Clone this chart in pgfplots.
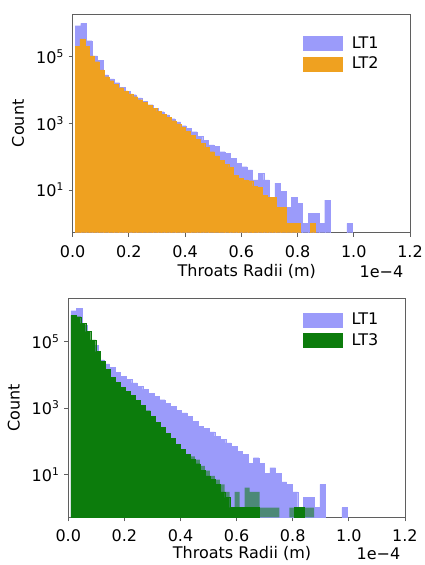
\documentclass[border=0pt]{standalone}
\usepackage{fontspec}
\setmainfont{DejaVu Sans}
\usepackage{pgfplots}
\pgfplotsset{compat=1.18}
\definecolor{lav}{RGB}{155,155,250}
\definecolor{org}{RGB}{239,161,32}
\definecolor{grn}{RGB}{12,124,12}
\definecolor{frm}{RGB}{95,95,95}
\newcommand{\fs}{\fontsize{12}{14}\selectfont}
\begin{document}
\begin{tikzpicture}
\useasboundingbox (0,0) rectangle (318.75pt,-423.75pt);
% ---------------- top panel ----------------
\begin{axis}[at={(54.5pt,-174.5pt)}, anchor=south west,
  width=253pt, height=164pt, scale only axis,
  ymode=log, log origin=infty,
  xmin=0, xmax=1.2, ymin=0.525, ymax=1.9e6,
  xtick={0,0.2,0.4,0.6,0.8,1.0,1.2},
  xticklabels={0.0,0.2,0.4,0.6,0.8,1.0,1.2},
  ytick={10,1000,100000},
  yticklabels={10\textsuperscript{1},10\textsuperscript{3},10\textsuperscript{5}},
  tick align=outside, major tick length=3pt, tick pos=left,
  tick style={frm, line width=0.6pt},
  axis line style={frm, line width=0.6pt},
  tick label style={font=\fs},
  label style={font=\fs},
  xticklabel style={yshift=-3pt},
  xlabel={Throats Radii (m)}, ylabel={Count},
  xlabel style={at={(rel axis cs:0.516,-0.178)}, anchor=center},
  ylabel style={at={(rel axis cs:-0.162,0.5)}, anchor=center},
  legend style={draw=none, fill=none, inner sep=0pt, anchor=north west,
      cells={anchor=west}, font=\fs, row sep=1pt, at={(rel axis cs:0.682,0.91)},
      /tikz/every odd column/.append style={column sep=5pt}},
  ]
\addlegendimage{legend image code/.code={\fill[lav] (0pt,-5.25pt) rectangle (29.25pt,5.25pt);}}
\addlegendentry{LT1}
\addlegendimage{legend image code/.code={\fill[org] (0pt,-5.25pt) rectangle (29.25pt,5.25pt);}}
\addlegendentry{LT2}
% LT1
\addplot[ybar, bar shift=0pt, bar width=0.01972, forget plot, fill=lav, draw=lav, line width=0.2pt] table[row sep=\\]{
x y\\
0.0189 851000\\ 0.0386 1000000\\ 0.0583 302000\\ 0.0780 105000\\ 0.0977 76000\\
0.1175 28200\\ 0.1372 21400\\ 0.1569 16600\\ 0.1766 12000\\ 0.1963 9100\\
0.2161 7200\\ 0.2358 5750\\ 0.2555 4570\\ 0.2752 3630\\ 0.2949 2820\\
0.3147 2240\\ 0.3344 1780\\ 0.3541 1380\\ 0.3738 1100\\ 0.3935 850\\
0.4133 710\\ 0.4330 560\\ 0.4527 400\\ 0.4724 316\\ 0.4921 224\\
0.5119 200\\ 0.5316 141\\ 0.5513 126\\ 0.5710 89\\ 0.5907 63\\
0.6105 50\\ 0.6302 40\\ 0.6499 20\\ 0.6696 32\\ 0.6893 20\\
0.7091 5\\ 0.7288 16\\ 0.7485 9\\ 0.7682 3\\ 0.7879 6\\
0.8077 4\\ 0.8274 1\\ 0.8471 2\\ 0.8668 2\\ 0.8865 1\\
0.9063 5\\ 0.9852 1\\
};
% LT2
\addplot[ybar, bar shift=0pt, bar width=0.01706, forget plot, fill=org, draw=org, line width=0.2pt] table[row sep=\\]{
x y\\
0.0175 200000\\ 0.0346 339000\\ 0.0516 200000\\ 0.0687 105000\\ 0.0857 70800\\
0.1028 39800\\ 0.1199 25100\\ 0.1369 19000\\ 0.1540 15100\\ 0.1710 11700\\
0.1881 9330\\ 0.2052 7590\\ 0.2222 6310\\ 0.2393 5130\\ 0.2563 4270\\
0.2734 3470\\ 0.2905 2820\\ 0.3075 2290\\ 0.3246 1860\\ 0.3416 1510\\
0.3587 1200\\ 0.3758 955\\ 0.3928 759\\ 0.4099 575\\ 0.4269 437\\
0.4440 331\\ 0.4611 251\\ 0.4781 191\\ 0.4952 141\\ 0.5122 105\\
0.5293 79\\ 0.5464 60\\ 0.5634 48\\ 0.5805 28\\ 0.5975 22\\
0.6146 20\\ 0.6317 19\\ 0.6487 13\\ 0.6658 12\\ 0.6828 7\\
0.6999 6\\ 0.7170 6\\ 0.7340 3\\ 0.7511 3\\ 0.7681 1\\
0.7852 1\\ 0.8023 1\\ 0.8534 1\\
};
\end{axis}
\node[anchor=east, font=\fs] at (306pt, -203.5pt) {1e−4};
% ---------------- bottom panel ----------------
\begin{axis}[at={(51.2pt,-388pt)}, anchor=south west,
  width=252.5pt, height=164.25pt, scale only axis,
  ymode=log, log origin=infty,
  xmin=0, xmax=1.2, ymin=0.51, ymax=2e6,
  xtick={0,0.2,0.4,0.6,0.8,1.0,1.2},
  xticklabels={0.0,0.2,0.4,0.6,0.8,1.0,1.2},
  ytick={10,1000,100000},
  yticklabels={10\textsuperscript{1},10\textsuperscript{3},10\textsuperscript{5}},
  tick align=outside, major tick length=3pt, tick pos=left,
  tick style={frm, line width=0.6pt},
  axis line style={frm, line width=0.6pt},
  tick label style={font=\fs},
  label style={font=\fs},
  xticklabel style={yshift=-3pt},
  xlabel={Throats Radii (m)}, ylabel={Count},
  xlabel style={at={(rel axis cs:0.516,-0.165)}, anchor=center},
  ylabel style={at={(rel axis cs:-0.162,0.5)}, anchor=center},
  legend style={draw=none, fill=none, inner sep=0pt, anchor=north west,
      cells={anchor=west}, font=\fs, row sep=1pt, at={(rel axis cs:0.696,0.945)},
      /tikz/every odd column/.append style={column sep=5pt}},
  ]
\addlegendimage{legend image code/.code={\fill[lav] (0pt,-5.25pt) rectangle (29.25pt,5.25pt);}}
\addlegendentry{LT1}
\addlegendimage{legend image code/.code={\fill[grn] (0pt,-5.25pt) rectangle (29.25pt,5.25pt);}}
\addlegendentry{LT3}
% LT1
\addplot[ybar, bar shift=0pt, bar width=0.01972, forget plot, fill=lav, draw=lav, line width=0.2pt] table[row sep=\\]{
x y\\
0.0189 851000\\ 0.0386 1000000\\ 0.0583 302000\\ 0.0780 105000\\ 0.0977 76000\\
0.1175 28200\\ 0.1372 21400\\ 0.1569 16600\\ 0.1766 12000\\ 0.1963 9100\\
0.2161 7200\\ 0.2358 5750\\ 0.2555 4570\\ 0.2752 3630\\ 0.2949 2820\\
0.3147 2240\\ 0.3344 1780\\ 0.3541 1380\\ 0.3738 1100\\ 0.3935 850\\
0.4133 710\\ 0.4330 560\\ 0.4527 400\\ 0.4724 282\\ 0.4921 240\\
0.5119 190\\ 0.5316 141\\ 0.5513 112\\ 0.5710 89\\ 0.5907 71\\
0.6105 50\\ 0.6302 40\\ 0.6499 22\\ 0.6696 32\\ 0.6893 22\\
0.7091 11\\ 0.7288 16\\ 0.7485 11\\ 0.7682 6\\ 0.7879 5\\
0.8077 3\\ 0.8274 1\\ 0.8471 2\\ 0.8668 2\\ 0.8865 1\\
0.9063 5\\ 0.9852 1\\
};
% LT3 (sparse tail, semi-transparent)
\addplot[ybar, bar shift=0pt, bar width=0.0177, forget plot, fill=grn, fill opacity=0.55, draw=none] table[row sep=\\]{
x y\\
0.4427 35\\ 0.4604 28\\ 0.4781 18\\ 0.4958 13\\ 0.5135 9\\
0.5312 7\\ 0.5489 5\\ 0.5666 3\\ 0.5843 1\\ 0.6020 3\\
0.6374 4\\ 0.6551 3\\ 0.6728 3\\ 0.6905 1\\ 0.7082 1\\ 0.7259 1\\
0.7436 1\\ 0.7967 1\\ 0.8498 1\\ 0.8675 1\\
};
% LT3
\addplot[ybar, bar shift=0pt, bar width=0.0177, forget plot, fill=grn, draw=grn, line width=0.2pt] table[row sep=\\]{
x y\\
0.0179 617000\\ 0.0356 562000\\ 0.0533 355000\\ 0.0710 200000\\ 0.0887 112000\\
0.1064 50100\\ 0.1241 25100\\ 0.1418 14800\\ 0.1595 8320\\ 0.1772 6030\\
0.1949 4270\\ 0.2126 3160\\ 0.2303 2400\\ 0.2480 1700\\ 0.2657 1200\\
0.2834 832\\ 0.3011 550\\ 0.3188 372\\ 0.3365 263\\ 0.3542 174\\
0.3719 120\\ 0.3896 79\\ 0.4073 56\\ 0.4250 40\\ 0.4427 28\\
0.4604 21\\ 0.4781 13\\ 0.4958 9\\ 0.5135 7\\ 0.5312 5\\
0.5489 3\\ 0.5666 2\\ 0.5843 1\\ 0.6020 1\\ 0.6197 1\\
0.6374 1\\ 0.6551 1\\ 0.6728 1\\ 0.8144 1\\
0.8321 1\\
};
\end{axis}
\node[anchor=east, font=\fs] at (303.75pt, -388pt-27pt) {1e−4};
\end{tikzpicture}
\end{document}
